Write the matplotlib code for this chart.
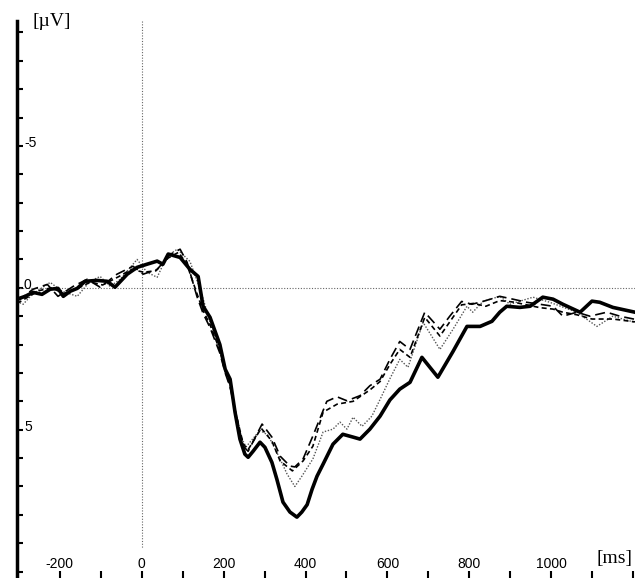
import numpy as np
import matplotlib
matplotlib.use("Agg")
import matplotlib.pyplot as plt

# ERP-Kurven, Zeit in ms, Amplitude in µV (negativ nach oben)
t_solid = [-304, -284, -265, -243, -223, -204, -191, -174, -157, -138, -109, -84, -65, -35,
           -11, 13, 38, 52, 65, 94, 118, 138, 150, 167, 191, 204, 216, 228, 240, 252, 260,
           272, 289, 301, 318, 330, 345, 362, 379, 391, 404, 416, 428, 443, 467, 491, 516,
           533, 557, 582, 606, 630, 655, 684, 723, 760, 794, 826, 855, 874, 891, 923, 948,
           979, 1004, 1028, 1070, 1099, 1118, 1150, 1204]
v_solid = [0.40, 0.30, 0.16, 0.23, 0.05, 0.02, 0.30, 0.12, 0.02, -0.23, -0.26, -0.23, -0.02, -0.48,
           -0.72, -0.83, -0.94, -0.83, -1.19, -1.07, -0.65, -0.40, 0.65, 1.04, 2.0, 2.87, 3.22,
           4.38, 5.33, 5.86, 5.97, 5.76, 5.44, 5.62, 6.15, 6.74, 7.55, 7.90, 8.08, 7.90, 7.64,
           7.10, 6.64, 6.21, 5.51, 5.16, 5.26, 5.33, 4.98, 4.52, 3.95, 3.57, 3.33, 2.45, 3.15,
           2.24, 1.36, 1.36, 1.18, 0.86, 0.65, 0.69, 0.65, 0.33, 0.40, 0.58, 0.86, 0.47, 0.51,
           0.69, 0.86]

t_dash1 = [-304, -296, -265, -230, -204, -167, -133, -101, -60, -21, 4, 38, 70, 94, 111, 135,
           150, 167, 191, 204, 216, 228, 248, 260, 294, 318, 338, 362, 374, 394, 418, 452, 477,
           501, 533, 557, 582, 606, 630, 655, 691, 728, 752, 781, 806, 833, 874, 906, 940, 972,
           1004, 1028, 1062, 1094, 1135, 1167, 1204]
v_dash1 = [0.45, 0.40, 0.05, -0.12, 0.30, -0.05, -0.30, -0.02, -0.48, -0.76, -0.48, -0.65, -1.18,
           -1.36, -0.90, 0.30, 0.90, 1.40, 2.30, 3.00, 3.50, 4.30, 5.58, 5.76, 4.80, 5.26, 5.93,
           6.28, 6.31, 6.03, 5.22, 4.00, 3.84, 3.98, 3.80, 3.45, 3.22, 2.52, 1.89, 2.17, 0.86,
           1.46, 1.00, 0.48, 0.58, 0.48, 0.30, 0.40, 0.51, 0.58, 0.65, 1.00, 0.86, 1.00, 0.86,
           1.00, 1.11]

t_dash2 = [-304, -280, -250, -220, -190, -160, -125, -95, -55, -25, 5, 35, 65, 90, 110, 135,
           150, 167, 191, 204, 216, 228, 248, 260, 292, 318, 338, 368, 394, 418, 443, 477, 516,
           557, 582, 606, 630, 655, 691, 728, 752, 781, 810, 840, 874, 906, 940, 972, 1004,
           1028, 1062, 1099, 1150, 1204]
v_dash2 = [0.55, 0.35, 0.10, 0.00, 0.20, 0.05, -0.20, -0.10, -0.40, -0.65, -0.55, -0.60, -1.05,
           -1.25, -0.85, 0.20, 0.80, 1.30, 2.20, 2.95, 3.45, 4.30, 5.50, 5.70, 4.95, 5.40, 6.10,
           6.45, 6.10, 5.58, 4.38, 4.10, 4.00, 3.60, 3.30, 2.70, 2.17, 2.45, 1.04, 1.70, 1.20,
           0.60, 0.55, 0.65, 0.45, 0.50, 0.60, 0.70, 0.75, 0.86, 0.95, 1.10, 1.10, 1.20]

t_dot = [-304, -289, -267, -223, -194, -157, -126, -101, -77, -52, -11, 13, 38, 62, 87, 118,
         143, 167, 191, 216, 228, 240, 255, 289, 309, 338, 355, 374, 391, 418, 443, 467, 484,
         501, 516, 538, 562, 582, 606, 630, 650, 687, 728, 760, 794, 808, 833, 874, 899, 955,
         996, 1062, 1111, 1150, 1204]
v_dot = [0.48, 0.58, 0.23, -0.19, 0.12, 0.30, -0.23, -0.40, -0.05, -0.30, -1.00, -0.55, -0.37,
         -1.11, -1.36, -0.93, 0.05, 1.20, 2.20, 3.40, 4.30, 5.20, 5.60, 5.02, 5.20, 6.03, 6.56,
         7.00, 6.64, 6.03, 5.08, 4.98, 4.73, 4.98, 4.56, 4.88, 4.52, 3.93, 3.20, 2.52, 2.80,
         1.22, 2.17, 1.46, 0.65, 0.86, 0.48, 0.30, 0.58, 0.33, 0.51, 0.86, 1.36, 1.00, 1.22]

x_ticks = [-200, 0, 200, 400, 600, 800, 1000]
y_ticks = [-5, 0, 5]

fig = plt.figure(figsize=(6.35, 5.78), dpi=100)
ax = fig.add_axes([17 / 635, -5 / 578, 618 / 635, 562 / 578])
ax.set_xlim(-304, 1204)
ax.set_ylim(10.4, -9.4)

# Nulllinien
ax.axhline(0, color="#666666", lw=0.8, ls=(0, (1, 1.5)))
ax.plot([0, 0], [-9.4, 9.15], color="#666666", lw=0.8, ls=(0, (1, 1.5)))

ax.plot(t_dot, v_dot, color="#555555", lw=1.0, ls=(0, (1, 1.2)))
ax.plot(t_dash2, v_dash2, color="black", lw=1.2, ls=(0, (3, 2)))
ax.plot(t_dash1, v_dash1, color="black", lw=1.2, ls=(0, (6, 3)))
ax.plot(t_solid, v_solid, color="black", lw=2.6)

for s in ["top", "right", "bottom"]:
    ax.spines[s].set_visible(False)
ax.spines["left"].set_linewidth(2.5)

ax.set_yticks(np.arange(-9, 11, 1))
ax.set_xticks(np.arange(-200, 1300, 100))
ax.tick_params(axis="y", direction="in", length=4, width=1.5, labelleft=False)
ax.tick_params(axis="x", direction="in", length=9, width=1.5, labelbottom=False)

for v in y_ticks:
    ax.text(-287, v - 0.1, str(v), ha="left", va="center", fontsize=10,
            family="Liberation Sans")
for t in x_ticks:
    ax.text(t, 9.72, str(t), ha="center", va="center", fontsize=10,
            family="Liberation Sans")

fig.text(33 / 635, 1 - 22 / 578, "[µV]", ha="left", va="center", fontsize=14,
         family="Liberation Serif")
fig.text(633 / 635, 1 - 558 / 578, "[ms]", ha="right", va="center", fontsize=14,
         family="Liberation Serif")

fig.savefig("out.png", dpi=100)
